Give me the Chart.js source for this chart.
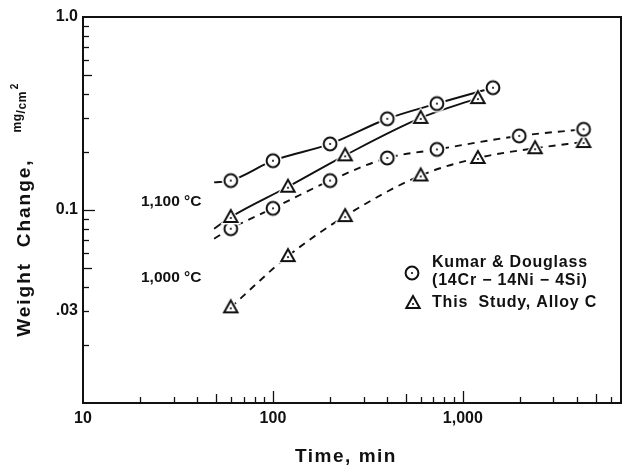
<!DOCTYPE html>
<html>
<head>
<meta charset="utf-8">
<script src="https://cdn.jsdelivr.net/npm/chart.js@4/dist/chart.umd.min.js"></script>
<style>
  html, body { margin: 0; padding: 0; background: #fff; }
  #wrap { width: 624px; height: 466px; }
</style>
</head>
<body>
<div id="wrap"><canvas id="c" width="624" height="466"></canvas></div>
<script>
// ---- Data ----
const kumarTime1100 = [60, 100, 200, 400, 730, 1440];
const kumarWt1100   = [0.142, 0.180, 0.220, 0.297, 0.356, 0.430];
const studyTime1100 = [60, 120, 240, 600, 1200];
const studyWt1100   = [0.092, 0.132, 0.192, 0.300, 0.380];
const kumarTime1000 = [60, 100, 200, 400, 730, 1980, 4320];
const kumarWt1000   = [0.080, 0.102, 0.142, 0.186, 0.206, 0.242, 0.262];
const studyTime1000 = [60, 120, 240, 600, 1200, 2400, 4320];
const studyWt1000   = [0.0313, 0.0577, 0.093, 0.151, 0.186, 0.209, 0.225];
// curve lead-in starts (fitted lines begin left of first marker)
const leadTime = [49, 49, 49];
const leadWt   = [0.139, 0.080, 0.071];

const xTickValues = [10, 100, 1000];
const xTickLabels = ['10', '100', '1,000'];
const yTickValues = [0.03, 0.1, 1];
const yTickLabels = ['.03', '0.1', '1.0'];
const tempLabels = ['1,100 °C', '1,000 °C'];
const legendLabels = ['Kumar & Douglass', '(14Cr \u2212 14Ni \u2212 4Si)', 'This  Study, Alloy C'];
const xTitle = 'Time, min';
const yTitle = 'Weight  Change,';

const FONT = '"Liberation Sans", Arial, Helvetica, sans-serif';
const INK = '#111';

function pts(xs, ys) { return xs.map((v, i) => ({ x: v, y: ys[i] })); }

function makeCircle() {
  const c = document.createElement('canvas'); c.width = c.height = 22;
  const g = c.getContext('2d');
  g.fillStyle = '#fff'; g.beginPath(); g.arc(11, 11, 9, 0, 2 * Math.PI); g.fill();
  g.strokeStyle = INK; g.lineWidth = 2; g.beginPath(); g.arc(11, 11, 6.4, 0, 2 * Math.PI); g.stroke();
  g.fillStyle = INK; g.beginPath(); g.arc(11, 11, 1.1, 0, 2 * Math.PI); g.fill();
  return c;
}
function makeTriangle() {
  const c = document.createElement('canvas'); c.width = c.height = 24;
  const g = c.getContext('2d');
  g.fillStyle = '#fff'; g.beginPath();
  g.moveTo(12, 1); g.lineTo(1.5, 19.5); g.lineTo(22.5, 19.5); g.closePath(); g.fill();
  g.strokeStyle = INK; g.lineWidth = 2; g.lineJoin = 'miter'; g.beginPath();
  g.moveTo(12, 5); g.lineTo(5.3, 17); g.lineTo(18.7, 17); g.closePath(); g.stroke();
  g.fillStyle = INK; g.beginPath(); g.arc(12, 13, 1.1, 0, 2 * Math.PI); g.fill();
  return c;
}
const circleImg = makeCircle();
const triImg = makeTriangle();

const lineBase = { showLine: true, pointRadius: 0, borderColor: INK, borderWidth: 1.9,
  cubicInterpolationMode: 'monotone', order: 2, fill: false };
const markBase = { showLine: false, pointRadius: 7, order: 1 };

const datasets = [
  Object.assign({}, lineBase, { data: [{ x: leadTime[0], y: leadWt[0] }].concat(pts(kumarTime1100, kumarWt1100)) }),
  Object.assign({}, lineBase, { data: [{ x: leadTime[1], y: leadWt[1] }].concat(pts(studyTime1100, studyWt1100)) }),
  Object.assign({}, lineBase, { borderDash: [7, 6], data: [{ x: leadTime[2], y: leadWt[2] }].concat(pts(kumarTime1000, kumarWt1000)) }),
  Object.assign({}, lineBase, { borderDash: [7, 6], data: pts(studyTime1000, studyWt1000) }),
  Object.assign({}, markBase, { pointStyle: circleImg, data: pts(kumarTime1100, kumarWt1100) }),
  Object.assign({}, markBase, { pointStyle: triImg, data: pts(studyTime1100, studyWt1100) }),
  Object.assign({}, markBase, { pointStyle: circleImg, data: pts(kumarTime1000, kumarWt1000) }),
  Object.assign({}, markBase, { pointStyle: triImg, data: pts(studyTime1000, studyWt1000) }),
];

function seg(ctx, x1, y1, x2, y2) { ctx.beginPath(); ctx.moveTo(x1, y1); ctx.lineTo(x2, y2); ctx.stroke(); }

const decor = {
  id: 'decor',
  beforeDatasetsDraw(chart) {
    const { ctx, chartArea: a, scales: { x, y } } = chart;
    ctx.save();
    ctx.strokeStyle = INK;
    ctx.lineWidth = 1.3;
    [10, 100, 1000].forEach(d => {
      for (let m = 1; m < 10; m++) {
        const v = m * d;
        if (v <= x.min * 1.0001 || v >= x.max) continue;
        const px = Math.round(x.getPixelForValue(v)) + 0.5;
        const len = m === 1 ? 12 : (m === 5 ? 9 : 6);
        seg(ctx, px, a.bottom, px, a.bottom - len);
      }
    });
    [0.01, 0.1].forEach(d => {
      for (let m = 1; m < 10; m++) {
        const v = m * d;
        if (v <= y.min * 1.0001 || v >= y.max * 0.9999) continue;
        const py = Math.round(y.getPixelForValue(v)) + 0.5;
        const len = m === 1 ? 12 : (m === 5 ? 9 : 6);
        seg(ctx, a.left, py, a.left + len, py);
      }
    });
    ctx.lineWidth = 2;
    ctx.strokeRect(a.left, a.top, a.right - a.left, a.bottom - a.top);
    ctx.restore();
  },
  afterDraw(chart) {
    const { ctx, chartArea: a } = chart;
    ctx.save();
    ctx.fillStyle = INK;
    // temperature labels
    ctx.font = 'bold 15.5px ' + FONT;
    ctx.textAlign = 'left'; ctx.textBaseline = 'middle';
    ctx.fillText(tempLabels[0], 141, 202);
    ctx.fillText(tempLabels[1], 141, 278);
    // legend
    ctx.drawImage(circleImg, 412 - 11, 273 - 11);
    ctx.drawImage(triImg, 413 - 12, 303 - 12);
    ctx.font = 'bold 16px ' + FONT;
    ctx.letterSpacing = '0.8px';
    ctx.fillText(legendLabels[0], 432, 263);
    ctx.fillText(legendLabels[1], 432, 281);
    ctx.fillText(legendLabels[2], 432, 303);
    // x title
    ctx.font = 'bold 19px ' + FONT;
    ctx.letterSpacing = '1.5px';
    ctx.textAlign = 'center';
    ctx.fillText(xTitle, 346, 457);
    // y title (rotated, with mg/cm² unit)
    ctx.translate(30, 0);
    ctx.rotate(-Math.PI / 2);
    ctx.textAlign = 'left'; ctx.textBaseline = 'alphabetic';
    ctx.font = 'bold 19px ' + FONT;
    ctx.letterSpacing = '2px';
    const wMain = ctx.measureText(yTitle).width;
    ctx.font = 'bold 12px ' + FONT;
    ctx.letterSpacing = '0.5px';
    const wMg = ctx.measureText('mg').width;
    const wSl = ctx.measureText('/').width;
    const wCm = ctx.measureText('cm').width;
    ctx.font = 'bold 10px ' + FONT;
    const wSq = ctx.measureText('2').width;
    const gap = 26;
    const total = wMain + gap + wMg + wSl + wCm + wSq + 2;
    const cy = (a.top + a.bottom) / 2;
    let s = -(cy + total / 2);
    ctx.font = 'bold 19px ' + FONT;
    ctx.letterSpacing = '2px';
    ctx.fillText(yTitle, s, 0);
    s += wMain + gap;
    ctx.font = 'bold 12px ' + FONT;
    ctx.letterSpacing = '0.5px';
    ctx.fillText('mg', s, -9); s += wMg;
    ctx.fillText('/', s, -5); s += wSl;
    ctx.fillText('cm', s, -4); s += wCm + 2;
    ctx.font = 'bold 10px ' + FONT;
    ctx.fillText('2', s, -12);
    ctx.restore();
  }
};

new Chart(document.getElementById('c'), {
  type: 'scatter',
  data: { datasets },
  plugins: [decor],
  options: {
    responsive: false,
    animation: false,
    devicePixelRatio: 1,
    layout: { autoPadding: false, padding: { top: 17, right: 3, left: 0, bottom: 0 } },
    plugins: { legend: { display: false }, tooltip: { enabled: false }, title: { display: false } },
    scales: {
      x: {
        type: 'logarithmic', min: 10, max: 6800,
        grid: { display: false, drawTicks: false }, border: { display: false },
        afterBuildTicks: (s) => { s.ticks = xTickValues.map(v => ({ value: v })); },
        afterFit: (s) => { s.height = 63; s.paddingRight = 0; s.paddingLeft = 0; },
        ticks: {
          autoSkip: false, maxRotation: 0, padding: 6, color: INK,
          font: { family: FONT, size: 16, weight: 'bold' },
          callback: (v) => { const i = xTickValues.indexOf(v); return i >= 0 ? xTickLabels[i] : ''; }
        }
      },
      y: {
        type: 'logarithmic', min: 0.01, max: 1,
        grid: { display: false, drawTicks: false }, border: { display: false },
        afterBuildTicks: (s) => { s.ticks = yTickValues.map(v => ({ value: v })); },
        afterFit: (s) => { s.width = 83; s.paddingTop = 0; s.paddingBottom = 0; },
        ticks: {
          autoSkip: false, padding: 5, color: INK,
          font: { family: FONT, size: 16, weight: 'bold' },
          callback: (v) => { const i = yTickValues.findIndex(t => Math.abs(t - v) < 1e-9); return i >= 0 ? yTickLabels[i] : ''; }
        }
      }
    }
  }
});
</script>
</body>
</html>
